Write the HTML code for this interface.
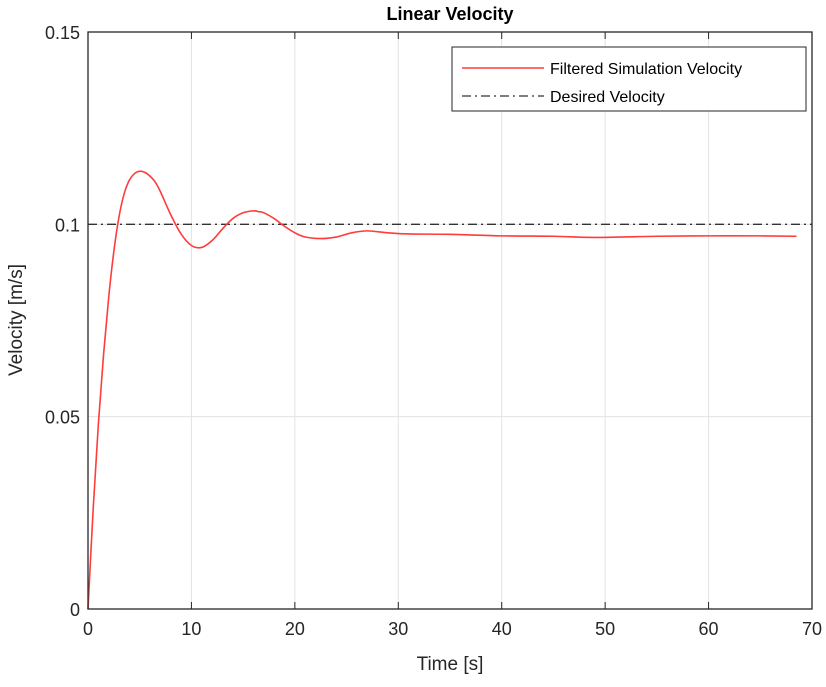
<!DOCTYPE html>
<html><head><meta charset="utf-8"><style>
body{margin:0;background:#fff;font-family:"Liberation Sans",sans-serif}
svg text{font-family:"Liberation Sans",sans-serif}
</style></head><body>
<svg id="c" width="826" height="682"></svg>
<script>
const times=[0,0.5,1,1.5,2,2.5,3,3.5,4,4.5,5,5.5,6,6.5,7,8,9,10,11,12,13,14,15,16,16.5,17,18,19,20,21,22.5,24,25.5,27,29,31,35,40,45,49,55,60,65,68.5];
const vel=[0,0.026,0.048,0.066,0.081,0.093,0.102,0.108,0.1115,0.1132,0.1138,0.1135,0.1125,0.111,0.1085,0.1025,0.0975,0.0945,0.094,0.0958,0.0988,0.1015,0.103,0.1035,0.1033,0.103,0.1015,0.0995,0.0978,0.0967,0.0963,0.0967,0.0978,0.0983,0.0978,0.0975,0.0974,0.097,0.0969,0.0966,0.0969,0.097,0.097,0.0969];
const desired=0.1;
const xTicks=[0,10,20,30,40,50,60,70];
const yTicks=[0,0.05,0.1,0.15];
const yLabels=["0","0.05","0.1","0.15"];
const L=88,R=812,T=32,B=609;
const X=v=>L+(v-0)/70*(R-L), Y=v=>B-(v/0.15)*(B-T);
const svg=document.getElementById('c');const NS='http://www.w3.org/2000/svg';
function mk(t,a,txt){const e=document.createElementNS(NS,t);for(const k in a)e.setAttribute(k,a[k]);if(txt!=null)e.textContent=txt;svg.appendChild(e);return e;}
xTicks.forEach((t,i)=>{
 if(i>0&&i<xTicks.length-1){const g=mk('line',{x1:X(t),x2:X(t),y1:T,y2:B,stroke:'#e3e3e3','stroke-width':1});
 }
 const k=mk('line',{x1:X(t),x2:X(t),y1:B,y2:B-7,stroke:'#262626'});
 
 const l=mk('text',{x:X(t),y:B+26,'text-anchor':'middle','font-size':18,fill:'#262626'},String(t));
 
 const k2=mk('line',{x1:X(t),x2:X(t),y1:T,y2:T+7,stroke:'#262626'});
 
});
yTicks.forEach((t,i)=>{
 if(i>0&&i<yTicks.length-1){const g=mk('line',{x1:L,x2:R,y1:Y(t),y2:Y(t),stroke:'#e3e3e3'});
 }
 const l=mk('text',{x:L-8,y:Y(t)+7,'text-anchor':'end','font-size':18,fill:'#262626'},yLabels[i]);
 
});
const d=mk('line',{x1:L,x2:R,y1:Y(desired),y2:Y(desired),stroke:'#333','stroke-width':1.3,'stroke-dasharray':'9 4 2 4'});

// catmull-rom path
const pts=times.map((t,i)=>[X(t),Y(vel[i])]);
let p='M'+pts[0][0]+','+pts[0][1];
for(let i=0;i<pts.length-1;i++){const p0=pts[i-1]||pts[i],p1=pts[i],p2=pts[i+1],p3=pts[i+2]||p2;
 p+=` C${p1[0]+(p2[0]-p0[0])/6},${p1[1]+(p2[1]-p0[1])/6} ${p2[0]-(p3[0]-p1[0])/6},${p2[1]-(p3[1]-p1[1])/6} ${p2[0]},${p2[1]}`;}
const s=mk('path',{d:p,fill:'none',stroke:'#ff3b3b','stroke-width':1.6});

const f=mk('rect',{x:L,y:T,width:R-L,height:B-T,fill:'none',stroke:'#262626','stroke-width':1.3});

const ti=mk('text',{x:450,y:20,'text-anchor':'middle','font-size':18,'font-weight':'bold',fill:'#000'},'Linear Velocity');

const xt=mk('text',{x:450,y:670,'text-anchor':'middle','font-size':19,fill:'#262626'},'Time [s]');

const yt=mk('text',{x:0,y:0,'text-anchor':'middle','font-size':19,fill:'#262626',transform:'translate(22,320) rotate(-90)'},'Velocity [m/s]');

const lg=mk('rect',{x:452,y:47,width:354,height:64,fill:'#fff',stroke:'#262626','stroke-width':1});

const l1=mk('line',{x1:462,x2:544,y1:68,y2:68,stroke:'#ff3b3b','stroke-width':1.6});

const t1=mk('text',{x:550,y:74,'font-size':16,fill:'#000'},'Filtered Simulation Velocity');

const l2=mk('line',{x1:462,x2:544,y1:96,y2:96,stroke:'#333','stroke-width':1.3,'stroke-dasharray':'9 4 2 4'});

const t2=mk('text',{x:550,y:102,'font-size':16,fill:'#000'},'Desired Velocity');

</script>
</body></html>
